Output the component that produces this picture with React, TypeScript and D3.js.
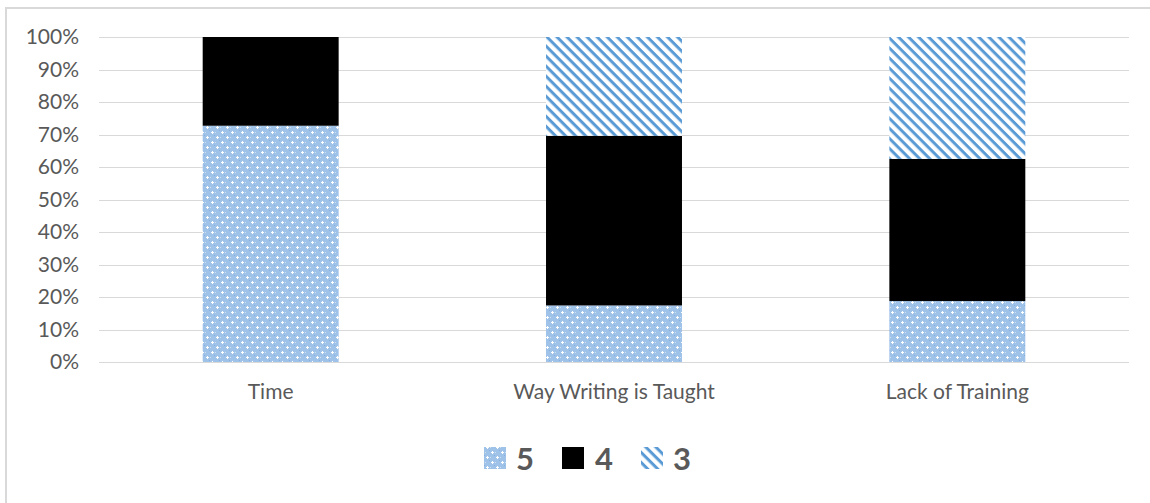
import React from "react";
import * as d3 from "d3";

const categories = ["Time", "Way Writing is Taught", "Lack of Training"];
const keys = ["5", "4", "3"];
const s5 = [0.727, 0.174, 0.1875];
const s4 = [0.273, 0.522, 0.4375];
const s3 = [0, 0.304, 0.375];
const yTicks = [0, 0.1, 0.2, 0.3, 0.4, 0.5, 0.6, 0.7, 0.8, 0.9, 1];

const W = 1150;
const H = 503;
const BLUE = "#5b9bd5";
const TEXT = "#595959";
const GRID = "#d9d9d9";
const FONT = "Lato, 'Open Sans', sans-serif";

const fills: Record<string, string> = { "5": "url(#dots)", "4": "#000000", "3": "url(#hatch)" };

export default function App() {
  const rows = categories.map((c, i) => ({ cat: c, "5": s5[i], "4": s4[i], "3": s3[i] }));
  const stacked = d3.stack<any>().keys(keys)(rows);

  const x = d3.scaleBand().domain(categories).range([99, 1129]).paddingInner(0.604).paddingOuter(0.302);
  const y = d3.scaleLinear().domain([0, 1]).range([362, 37]);
  const fmt = d3.format(".0%");

  // legend layout
  const legend = [
    { key: "5", sx: 484, tx: 516 },
    { key: "4", sx: 562, tx: 595 },
    { key: "3", sx: 641, tx: 673 },
  ];

  return (
    <svg width={W} height={H} style={{ position: "absolute", left: 0, top: 0, background: "#fff" }}>
      <defs>
        <pattern id="dots" patternUnits="userSpaceOnUse" width={10} height={10}>
          <rect width={10} height={10} fill="#9fc2e9" />
          <rect x={1} y={2} width={3} height={1} fill="#fff" />
          <rect x={2} y={1} width={1} height={3} fill="#fff" />
          <rect x={6} y={7} width={3} height={1} fill="#fff" />
          <rect x={7} y={6} width={1} height={3} fill="#fff" />
          <rect x={5} y={2} width={1} height={1} fill="#cfe0f3" />
          <rect x={0} y={7} width={1} height={1} fill="#cfe0f3" />
          <rect x={4} y={5} width={1} height={1} fill="#85afe0" />
          <rect x={9} y={0} width={1} height={1} fill="#85afe0" />
        </pattern>
        <pattern id="hatch" patternUnits="userSpaceOnUse" width={7.1} height={7.1} patternTransform="rotate(45)">
          <rect width={7.1} height={7.1} fill="#fff" />
          <rect y={0} width={7.1} height={3} fill={BLUE} />
        </pattern>
      </defs>

      {/* chart frame */}
      <rect x={6} y={8} width={W + 10} height={H + 10} fill="none" stroke={GRID} strokeWidth={2} />

      {/* gridlines */}
      {yTicks.map((t) => (
        <line key={t} x1={99} x2={1129} y1={Math.round(y(t)) + 0.5} y2={Math.round(y(t)) + 0.5} stroke={GRID} strokeWidth={1} />
      ))}

      {/* y tick labels */}
      {yTicks.map((t) => (
        <text key={"l" + t} x={79} y={y(t)} dy="0.35em" textAnchor="end" fontFamily={FONT} fontSize={21} fill={TEXT}>
          {fmt(t)}
        </text>
      ))}

      {/* bars */}
      {stacked.map((layer) => (
        <g key={layer.key} fill={fills[layer.key]}>
          {layer.map((d, i) =>
            d[1] - d[0] > 0 ? (
              <rect key={i} x={x(categories[i])} width={x.bandwidth()} y={y(d[1])} height={y(d[0]) - y(d[1])} />
            ) : null
          )}
        </g>
      ))}

      {/* category labels */}
      {categories.map((c) => (
        <text key={c} x={(x(c) as number) + x.bandwidth() / 2} y={399} textAnchor="middle" fontFamily={FONT} fontSize={21} fill={TEXT}>
          {c}
        </text>
      ))}

      {/* legend */}
      {legend.map((l) => (
        <g key={l.key}>
          <rect x={l.sx} y={447} width={22} height={22} fill={fills[l.key]} />
          <text x={l.tx} y={470} fontFamily={FONT} fontSize={31} fontWeight="bold" fill={TEXT}>
            {l.key}
          </text>
        </g>
      ))}
    </svg>
  );
}
